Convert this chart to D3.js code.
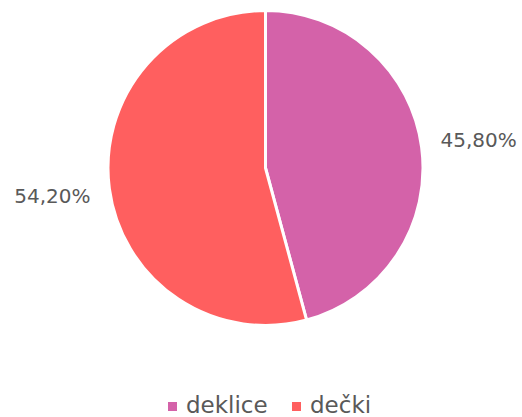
<!DOCTYPE html>
<html>
<head>
<meta charset="utf-8">
<script src="https://cdn.jsdelivr.net/npm/d3@7"></script>
<style>
  body { margin: 0; background: #fff; }
  text { font-family: "DejaVu Sans", sans-serif; fill: #595959; }
</style>
</head>
<body>
<div class="chart"></div>
<script>
var categories = ['deklice', 'dečki'];
var values = [45.8, 54.2];
var labels = ['45,80%', '54,20%'];
var colors = ['#D462A9', '#FF5F5F'];

var width = 522, height = 417;
var cx = 265.5, cy = 168, radius = 157.5;

var svg = d3.select('.chart')
  .append('svg')
    .attr('width', width)
    .attr('height', height);

var pie = d3.pie().sort(null).value(d => d);
var arcs = pie(values);

var arc = d3.arc().innerRadius(0).outerRadius(radius);
var labelArc = d3.arc().innerRadius(215).outerRadius(215);

var g = svg.append('g')
  .attr('transform', 'translate(' + cx + ',' + cy + ')');

// slices with white borders
g.selectAll('path')
  .data(arcs)
  .enter()
    .append('path')
    .attr('d', arc)
    .attr('fill', (d, i) => colors[i])
    .attr('stroke', '#fff')
    .attr('stroke-width', 3)
    .attr('stroke-linejoin', 'round');

// outside labels
g.selectAll('text.lbl')
  .data(arcs)
  .enter()
    .append('text')
    .attr('class', 'lbl')
    .attr('transform', d => 'translate(' + labelArc.centroid(d) + ')')
    .attr('text-anchor', 'middle')
    .attr('dy', '0.35em')
    .style('font-size', '20px')
    .text((d, i) => labels[i]);

// legend
var legendX = [168, 292];
var legend = svg.selectAll('g.legend')
  .data(categories)
  .enter()
    .append('g')
    .attr('class', 'legend')
    .attr('transform', (d, i) => 'translate(' + legendX[i] + ', 402)');

legend.append('rect')
  .attr('width', 9)
  .attr('height', 9)
  .attr('fill', (d, i) => colors[i]);

legend.append('text')
  .attr('x', 18)
  .attr('y', 11)
  .style('font-size', '23px')
  .text(d => d);
</script>
</body>
</html>
